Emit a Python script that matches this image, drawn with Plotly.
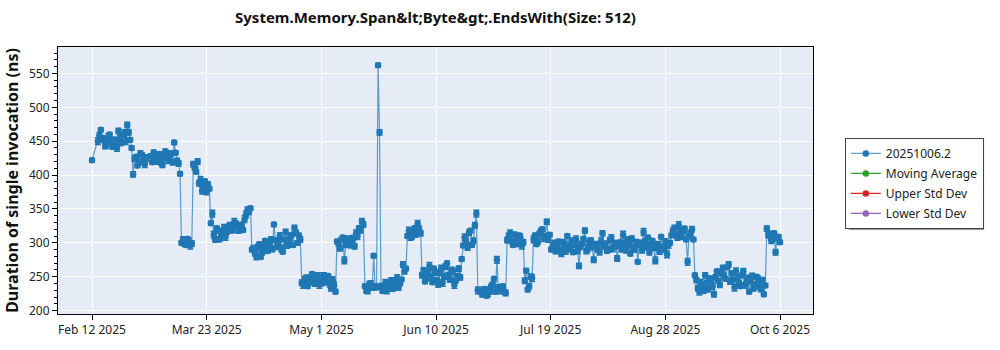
import numpy as np
import pandas as pd
import plotly.graph_objects as go

# One entry per calendar day; two benchmark runs per day (morning / midday)
days = [
    "2025-02-12", "2025-02-13", "2025-02-14", "2025-02-15", "2025-02-16", "2025-02-17", "2025-02-18",
    "2025-02-19", "2025-02-20", "2025-02-21", "2025-02-22", "2025-02-23", "2025-02-24", "2025-02-25",
    "2025-02-26", "2025-02-27", "2025-02-28",
    "2025-03-01", "2025-03-02", "2025-03-03", "2025-03-04", "2025-03-05", "2025-03-06", "2025-03-07",
    "2025-03-08", "2025-03-09", "2025-03-10", "2025-03-11", "2025-03-12", "2025-03-13", "2025-03-14",
    "2025-03-15", "2025-03-16", "2025-03-17", "2025-03-18", "2025-03-19", "2025-03-20", "2025-03-21",
    "2025-03-22", "2025-03-23", "2025-03-24", "2025-03-25", "2025-03-26", "2025-03-27", "2025-03-28",
    "2025-03-29", "2025-03-30", "2025-03-31",
    "2025-04-01", "2025-04-02", "2025-04-03", "2025-04-04", "2025-04-05", "2025-04-06", "2025-04-07",
    "2025-04-08", "2025-04-09", "2025-04-10", "2025-04-11", "2025-04-12", "2025-04-13", "2025-04-14",
    "2025-04-15", "2025-04-16", "2025-04-17", "2025-04-18", "2025-04-19", "2025-04-20", "2025-04-21",
    "2025-04-22", "2025-04-23", "2025-04-24", "2025-04-25", "2025-04-26", "2025-04-27", "2025-04-28",
    "2025-04-29", "2025-04-30",
    "2025-05-01", "2025-05-02", "2025-05-03", "2025-05-04", "2025-05-05", "2025-05-06", "2025-05-07",
    "2025-05-08", "2025-05-09", "2025-05-10", "2025-05-11", "2025-05-12", "2025-05-13", "2025-05-14",
    "2025-05-15", "2025-05-16", "2025-05-17", "2025-05-18", "2025-05-19", "2025-05-20", "2025-05-21",
    "2025-05-22", "2025-05-23", "2025-05-24", "2025-05-25", "2025-05-26", "2025-05-27", "2025-05-28",
    "2025-05-29", "2025-05-30", "2025-05-31",
    "2025-06-01", "2025-06-02", "2025-06-03", "2025-06-04", "2025-06-05", "2025-06-06", "2025-06-07",
    "2025-06-08", "2025-06-09", "2025-06-10", "2025-06-11", "2025-06-12", "2025-06-13", "2025-06-14",
    "2025-06-15", "2025-06-16", "2025-06-17", "2025-06-18", "2025-06-19", "2025-06-20", "2025-06-21",
    "2025-06-22", "2025-06-23", "2025-06-24", "2025-06-25", "2025-06-26", "2025-06-27", "2025-06-28",
    "2025-06-29", "2025-06-30",
    "2025-07-01", "2025-07-02", "2025-07-03", "2025-07-04", "2025-07-05", "2025-07-06", "2025-07-07",
    "2025-07-08", "2025-07-09", "2025-07-10", "2025-07-11", "2025-07-12", "2025-07-13", "2025-07-14",
    "2025-07-15", "2025-07-16", "2025-07-17", "2025-07-18", "2025-07-19", "2025-07-20", "2025-07-21",
    "2025-07-22", "2025-07-23", "2025-07-24", "2025-07-25", "2025-07-26", "2025-07-27", "2025-07-28",
    "2025-07-29", "2025-07-30", "2025-07-31",
    "2025-08-01", "2025-08-02", "2025-08-03", "2025-08-04", "2025-08-05", "2025-08-06", "2025-08-07",
    "2025-08-08", "2025-08-09", "2025-08-10", "2025-08-11", "2025-08-12", "2025-08-13", "2025-08-14",
    "2025-08-15", "2025-08-16", "2025-08-17", "2025-08-18", "2025-08-19", "2025-08-20", "2025-08-21",
    "2025-08-22", "2025-08-23", "2025-08-24", "2025-08-25", "2025-08-26", "2025-08-27", "2025-08-28",
    "2025-08-29", "2025-08-30", "2025-08-31",
    "2025-09-01", "2025-09-02", "2025-09-03", "2025-09-04", "2025-09-05", "2025-09-06", "2025-09-07",
    "2025-09-08", "2025-09-09", "2025-09-10", "2025-09-11", "2025-09-12", "2025-09-13", "2025-09-14",
    "2025-09-15", "2025-09-16", "2025-09-17", "2025-09-18", "2025-09-19", "2025-09-20", "2025-09-21",
    "2025-09-22", "2025-09-23", "2025-09-24", "2025-09-25", "2025-09-26", "2025-09-27", "2025-09-28",
    "2025-09-29", "2025-09-30",
    "2025-10-01", "2025-10-02", "2025-10-03", "2025-10-04", "2025-10-05", "2025-10-06",
]

# Mean duration of the first run of each day (ns); None = no run
run1_ns = [
    422, None, 450, 467, 452, 445, 460, 442, 449, 465, 447, 462, 474, 452, 401, 427, 419,
    430, 416, None, 428, 433, 421, 431, 415, 435, 422, 432, 448, 421, 402, 305, 297, 302,
    299, 410, 420, 393, 382, 375, 380, 343, 305, 318, 310, 322, 316, 326,
    320, 329, 318, 327, 335, 349, 351, 292, 280, 298, 286, 303, 290, 305, 327, 294,
    310, 287, 316, 299, 312, 322, 300, 305, 238, 249, 243, 254, 240, 251,
    246, 252, 242, 239, 245, 228, 299, 305, 274, 303, 296, 307, 314, 322, 332, 236,
    230, 240, 281, 234, 463, 229, 241, 233, 245, 236, 248, 240, 268, 262, 318,
    309, 322, 328, 314, 260, 248, 266, 242, 256, 238, 262, 250, 270, 246, 258, 244,
    262, 276, 308, 293, 318, 303, 343, 229, 224, 232, 226, 235, 247, 275,
    229, 236, 226, 309, 302, 312, 298, 308, 301, 259, 236, 248, 311, 302, 318, 307,
    331, 312, 295, 288, 302, 284, 297, 310, 291, 286, 305, 266, 299, 318, 292,
    304, 275, 296, 287, 314, 299, 290, 307, 294, 277, 301, 312, 289, 297, 306, 291,
    272, 300, 316, 293, 286, 303, 274, 298, 309, 290, 283, 300, 318, 312, 326,
    309, 321, 272, 314, 305, 245, 228, 236, 252, 231, 246, 224, 258, 238, 262, 247,
    268, 255, 234, 249, 236, 258, 241, 228, 251, 239, 246, 232, 224, 321,
    312, 305, 286, 309, 302, 311,
]

# Mean duration of the second run of each day (ns); None = no run
run2_ns = [
    None, None, 458, 455, 443, 456, 448, 452, 440, 454, 459, 450, 463, 440, 424, 414, 432,
    421, 425, None, 419, 424, 429, 418, 427, 424, 430, 419, 433, 417, 300, 299, 306, 296,
    416, 405, 388, 377, 391, 386, 329, 312, 321, 305, 315, 309, 324, 319,
    331, 322, 325, 319, 342, 346, 290, 285, 293, 279, 295, 288, 299, 291, 304, 301,
    292, 305, 296, 308, 297, 315, 311, 241, 245, 236, 248, 241, 247, 238,
    240, 247, 251, 233, 237, 302, 292, 308, 298, 306, 301, 295, 310, 318, 327, 229,
    238, 234, 236, 562, 236, 235, 230, 240, 232, 242, 235, 246, 258, 310, 309,
    316, 312, 320, 252, 243, 257, 250, 262, 245, 255, 241, 265, 253, 260, 238, 251,
    249, 296, 301, 315, 297, 326, 230, 227, 231, 222, 229, 238, 228, 233,
    233, 228, 304, 314, 297, 305, 311, 296, 244, 231, 250, 305, 298, 313, 320, 309,
    305, 290, 299, 294, 290, 301, 288, 296, 303, 297, 289, 294, 306, 288, 301,
    293, 298, 289, 302, 295, 288, 304, 292, 300, 296, 290, 298, 305, 284, 293, 300,
    297, 289, 301, 308, 297, 292, 295, 287, 294, 302, 297, 311, 322, 307, 316,
    318, 305, 311, 320, 252, 233, 241, 229, 240, 247, 236, 249, 244, 255, 250, 264,
    243, 246, 258, 240, 252, 237, 247, 243, 233, 250, 236, 245, 237, 312,
    304, 314, 308, 301, 313, None,
]

# Standard error of the day's measurements (ns)
std_errors = [
    3, 4, 5, 3, 4, 5, 3, 4, 5, 4, 3, 5, 4, 3, 4, 3, 4,
    3, 5, 4, 3, 4, 5, 3, 4, 3, 5, 4, 3, 4, 3, 4, 3,
    5, 4, 3, 4, 5, 3, 4, 3, 5, 4, 3, 4, 5, 3,
    4, 5, 3, 4, 3, 5, 4, 3, 4, 5, 3, 4, 3, 5, 4,
    3, 4, 5, 3, 4, 5, 3, 4, 3, 4, 5, 3, 4, 3,
    4, 5, 3, 4, 3, 4, 5, 3, 4, 3, 5, 4, 3, 4, 5, 3,
    4, 3, 5, 4, 3, 3, 4, 3, 5, 4, 3, 4, 5, 3, 4,
    3, 5, 4, 3, 5, 4, 3, 4, 5, 3, 4, 3, 5, 4, 3, 4,
    5, 3, 4, 3, 5, 4, 3, 4, 5, 3, 4, 3, 5, 4,
    3, 5, 4, 3, 4, 5, 3, 4, 3, 5, 4, 3, 4, 5, 3, 4,
    3, 5, 4, 3, 5, 4, 3, 4, 5, 3, 4, 3, 5, 4, 3,
    4, 5, 3, 4, 3, 5, 4, 3, 4, 5, 3, 4, 3, 5, 4, 3,
    4, 5, 3, 4, 5, 3, 4, 3, 5, 4, 3, 4, 5, 3, 4,
    3, 5, 4, 3, 5, 4, 3, 4, 5, 3, 4, 3, 5, 4, 3, 4,
    5, 3, 4, 3, 5, 4, 3, 4, 5, 3, 4, 3, 5, 4,
    3, 4, 5, 3, 4, 3,
]

tick_labels = ["Feb 12 2025", "Mar 23 2025", "May 1 2025", "Jun 10 2025",
               "Jul 19 2025", "Aug 28 2025", "Oct 6 2025"]

series_name = "20251006.2"
extra_series = [("Moving Average", "#2ca02c"),
                ("Upper Std Dev", "#d62728"),
                ("Lower Std Dev", "#9467bd")]

# Interleave the two daily runs into one time-ordered series
day_ts = pd.to_datetime(days)
run_offsets = [pd.Timedelta(hours=0), pd.Timedelta(hours=12)]
xs, ys, errs = [], [], []
for d, v1, v2, e in zip(day_ts, run1_ns, run2_ns, std_errors):
    for off, v in zip(run_offsets, (v1, v2)):
        if v is not None:
            xs.append(d + off)
            ys.append(v)
            errs.append(e)

blue = "#1f77b4"
fig = go.Figure()
fig.add_trace(go.Scatter(
    x=xs, y=ys, name=series_name, mode="lines+markers", legendgroup="g0",
    line=dict(color="rgba(31,119,180,0.7)", width=1.2),
    marker=dict(color=blue, size=6.5),
    error_y=dict(type="data", array=errs, visible=True,
                 color=blue, thickness=1.5, width=3),
))
for i, (name, color) in enumerate(extra_series, start=1):
    fig.add_trace(go.Scatter(
        x=[None], y=[None], name=name, mode="lines+markers", legendgroup=f"g{i}",
        line=dict(color=color, width=1.2), marker=dict(color=color, size=6.5),
    ))

# Evenly spaced date ticks between first and last run
first, last = min(xs), max(xs)
tick_vals = pd.to_datetime(np.linspace(first.value, last.value, len(tick_labels)))

one_day = pd.Timedelta(days=1)
x_range = [first - 11.6 * one_day, last + 11.25 * one_day]

# Plot area in pixels: left 54, right 813, top 47, bottom 320
plot_w, plot_h = 813 - 54, 320 - 47


def px_to_paper(px, py):
    return (px - 54) / plot_w, (320 - py) / plot_h


legend_x, legend_y = px_to_paper(845, 140)

font_family = "Noto Sans, Open Sans, sans-serif"
fig.update_layout(
    width=1000, height=350,
    margin=dict(l=54, r=187, t=47, b=30),
    paper_bgcolor="white", plot_bgcolor="#E5ECF6",
    font=dict(family=font_family, size=12, color="#222"),
    title=dict(text="System.Memory.Span&amp;lt;Byte&amp;gt;.EndsWith(Size: 512)",
               x=0.5, xref="paper", y=0.95, yref="container",
               xanchor="center", yanchor="middle",
               font=dict(size=15, color="#111", family=font_family, weight="bold")),
    showlegend=True,
    legend=dict(x=legend_x, y=legend_y, xanchor="left", yanchor="top",
                bgcolor="white", bordercolor="#444", borderwidth=1,
                font=dict(size=12, color="#222"), tracegroupgap=1),
)
fig.update_xaxes(
    type="date", range=x_range, tickvals=tick_vals, ticktext=tick_labels,
    showgrid=True, gridcolor="white", gridwidth=1,
    showline=True, linecolor="black", linewidth=1, mirror=True,
    ticks="outside", ticklen=5, tickcolor="black", zeroline=False,
)
fig.update_yaxes(
    range=[195, 589], dtick=50, tick0=0,
    title=dict(text="Duration of single invocation (ns)",
               font=dict(size=16, color="#111", weight="bold"), standoff=6),
    showgrid=True, gridcolor="white", gridwidth=1,
    showline=True, linecolor="black", linewidth=1, mirror=True,
    ticks="outside", ticklen=5, tickcolor="black", zeroline=False,
    minor=dict(dtick=10, ticks="outside", ticklen=3, tickcolor="black", showgrid=False),
)

# Drop shadow behind the legend box
sx0, sy0 = px_to_paper(849, 234)
sx1, sy1 = px_to_paper(985, 140)
fig.add_shape(type="rect", xref="paper", yref="paper",
              x0=sx0, x1=sx1, y0=sy0, y1=sy1,
              fillcolor="#9a9a9a", line=dict(width=0), layer="below")

fig.write_html("out.html")
